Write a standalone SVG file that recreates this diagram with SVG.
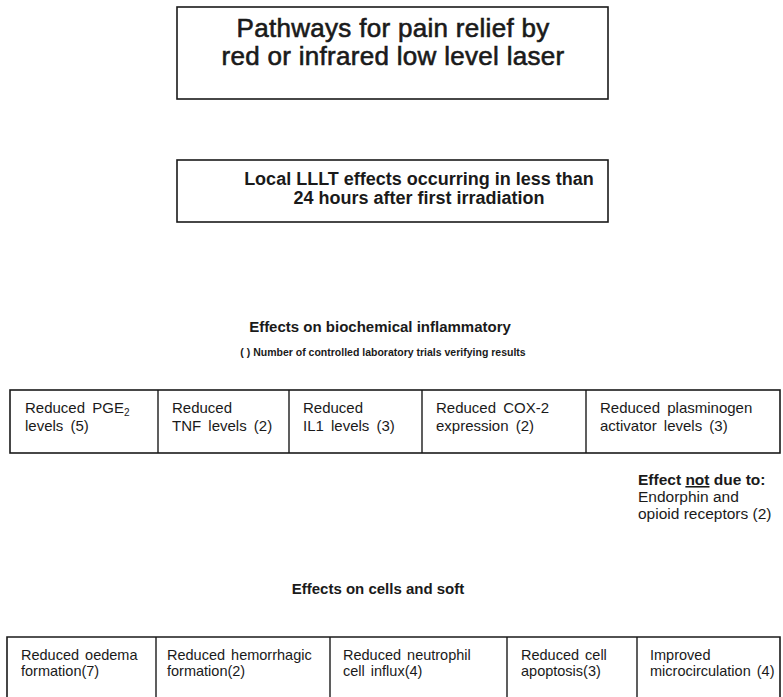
<svg xmlns="http://www.w3.org/2000/svg" width="783" height="697" viewBox="0 0 783 697">
<style>
  text { font-family: "Liberation Sans", Arial, Helvetica, sans-serif; fill: #1a1a1a; }
  .box { fill: #ffffff; stroke: #1a1a1a; stroke-width: 1.6; }
  .div { stroke: #1a1a1a; stroke-width: 1.4; }
  .title { font-size: 26px; letter-spacing: 0.3px; stroke: #1a1a1a; stroke-width: 0.6; }
  .sub { font-size: 18px; font-weight: bold; }
  .hdr { font-size: 15px; font-weight: bold; }
  .note { font-size: 10.5px; font-weight: bold; }
  .cell { font-size: 15px; word-spacing: 3px; }
  .cell2 { font-size: 14.5px; word-spacing: 2px; }
  .side { font-size: 15.5px; }
</style>
<rect width="783" height="697" fill="#ffffff"/>

<g id="title">
  <rect class="box" x="177" y="7" width="431" height="92"/>
  <text class="title" x="393" y="37" text-anchor="middle">Pathways for pain relief by</text>
  <text class="title" x="393" y="65" text-anchor="middle">red or infrared low level laser</text>
</g>

<g id="local-effects">
  <rect class="box" x="177" y="160" width="431" height="62"/>
  <text class="sub" x="419" y="185" text-anchor="middle">Local LLLT effects occurring in less than</text>
  <text class="sub" x="419" y="204" text-anchor="middle">24 hours after first irradiation</text>
</g>

<g id="biochemical-header">
  <text class="hdr" x="380" y="332" text-anchor="middle">Effects on biochemical inflammatory</text>
  <text class="note" x="383" y="356" text-anchor="middle">( ) Number of controlled laboratory trials verifying results</text>
</g>

<g id="biochemical-table">
  <rect class="box" x="10" y="390" width="770" height="63"/>
  <line class="div" x1="158" y1="390" x2="158" y2="453"/>
  <line class="div" x1="289" y1="390" x2="289" y2="453"/>
  <line class="div" x1="422" y1="390" x2="422" y2="453"/>
  <line class="div" x1="586" y1="390" x2="586" y2="453"/>
</g>

<g id="pge2">
  <text class="cell" x="25" y="413">Reduced  PGE<tspan font-size="10" dy="3">2</tspan></text>
  <text class="cell" x="25" y="431">levels (5)</text>
</g>
<g id="tnf">
  <text class="cell" x="172" y="413">Reduced</text>
  <text class="cell" x="172" y="431">TNF  levels (2)</text>
</g>
<g id="il1">
  <text class="cell" x="303" y="413">Reduced</text>
  <text class="cell" x="303" y="431">IL1  levels (3)</text>
</g>
<g id="cox2">
  <text class="cell" x="436" y="413">Reduced  COX-2</text>
  <text class="cell" x="436" y="431">expression (2)</text>
</g>
<g id="plasminogen">
  <text class="cell" x="600" y="413">Reduced  plasminogen</text>
  <text class="cell" x="600" y="431">activator levels (3)</text>
</g>

<g id="not-due">
  <text class="side" x="638" y="485" font-weight="bold">Effect <tspan text-decoration="underline">not</tspan> due to:</text>
  <text class="side" x="638" y="502">Endorphin and</text>
  <text class="side" x="638" y="519">opioid receptors (2)</text>
</g>

<g id="cells-header">
  <text class="hdr" x="378" y="594" text-anchor="middle">Effects on cells and soft</text>
</g>

<g id="cells-table">
  <path class="box" d="M7,700 V637 H780 V700"/>
  <line class="div" x1="156" y1="637" x2="156" y2="700"/>
  <line class="div" x1="330" y1="637" x2="330" y2="700"/>
  <line class="div" x1="507" y1="637" x2="507" y2="700"/>
  <line class="div" x1="637" y1="637" x2="637" y2="700"/>
</g>

<g id="oedema">
  <text class="cell2" x="21" y="660">Reduced  oedema</text>
  <text class="cell2" x="21" y="676">formation(7)</text>
</g>
<g id="hemorrhagic">
  <text class="cell2" x="167" y="660">Reduced  hemorrhagic</text>
  <text class="cell2" x="167" y="676">formation(2)</text>
</g>
<g id="neutrophil">
  <text class="cell2" x="343" y="660">Reduced  neutrophil</text>
  <text class="cell2" x="343" y="676">cell influx(4)</text>
</g>
<g id="apoptosis">
  <text class="cell2" x="521" y="660">Reduced cell</text>
  <text class="cell2" x="521" y="676">apoptosis(3)</text>
</g>
<g id="microcirculation">
  <text class="cell2" x="650" y="660">Improved</text>
  <text class="cell2" x="650" y="676">microcirculation (4)</text>
</g>
</svg>
